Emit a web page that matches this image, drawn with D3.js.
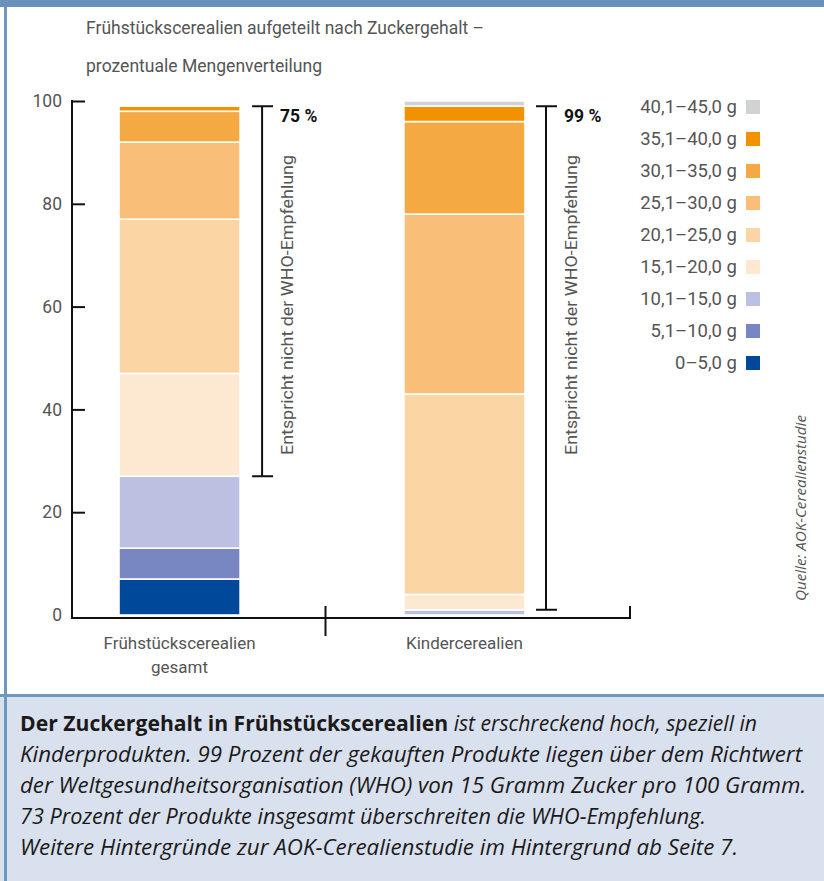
<!DOCTYPE html>
<html><head><meta charset="utf-8">
<script src="https://cdn.jsdelivr.net/npm/d3@7"></script>
<style>
html,body{margin:0;padding:0;background:#fff;}
svg{display:block;}
</style></head>
<body>
<svg id="chart" width="824" height="881"></svg>
<script>
// ---------- DATA ----------
const categories = ["Frühstückscerealien gesamt", "Kindercerealien"];
const categoryLines = [["Frühstückscerealien", "gesamt"], ["Kindercerealien"]];
const bands = ["0–5,0 g", "5,1–10,0 g", "10,1–15,0 g", "15,1–20,0 g", "20,1–25,0 g",
               "25,1–30,0 g", "30,1–35,0 g", "35,1–40,0 g", "40,1–45,0 g"];
const bandColors = ["#004899", "#7886c2", "#bcc1e2", "#fde9d2", "#fbd5a3",
                    "#f9be78", "#f5a942", "#f39200", "#d0d2d3"];
const valuesGesamt = [7, 6, 14, 20, 30, 15, 6, 1, 0];
const valuesKinder = [0, 0, 1, 3, 39, 35, 18, 3, 1];
const bracketLabels = ["75 %", "99 %"];
const yTicks = [0, 20, 40, 60, 80, 100];
const titleLines = ["Frühstückscerealien aufgeteilt nach Zuckergehalt –", "prozentuale Mengenverteilung"];
const bracketText = "Entspricht nicht der WHO-Empfehlung";
const sourceText = "Quelle: AOK-Cerealienstudie";

// ---------- SETUP ----------
const svg = d3.select("#chart");
const FONT = "Roboto, 'Liberation Sans', sans-serif";
const GREY = "#555";

// frame
svg.append("rect").attr("x", 0).attr("y", 0).attr("width", 824).attr("height", 7).attr("fill", "#6a91ba");
svg.append("rect").attr("x", 0).attr("y", 696).attr("width", 824).attr("height", 185).attr("fill", "#dae1ee");
svg.append("rect").attr("x", 4).attr("y", 7).attr("width", 3).attr("height", 874).attr("fill", "#7097bf");
svg.append("rect").attr("x", 0).attr("y", 694).attr("width", 824).attr("height", 3).attr("fill", "#7097bf");

// title
const titleWidths = [398, 236];
svg.selectAll("text.title").data(titleLines).join("text")
  .attr("class", "title")
  .attr("x", 86).attr("y", (d, i) => 34 + i * 38)
  .attr("font-family", FONT).attr("font-size", 17.5).attr("fill", GREY)
  .attr("textLength", (d, i) => titleWidths[i]).attr("lengthAdjust", "spacingAndGlyphs")
  .text(d => d);

// scales
const y = d3.scaleLinear().domain([0, 100]).range([615, 101]);
const x = d3.scaleBand().domain(categories).range([119, 525]).paddingInner(0.575).paddingOuter(0);
const bw = x.bandwidth();

// stacked data
const rows = categories.map((c, i) => {
  const vals = i === 0 ? valuesGesamt : valuesKinder;
  const o = {cat: c};
  bands.forEach((b, j) => o[b] = vals[j]);
  return o;
});
const stack = d3.stack().keys(bands)(rows);

const g = svg.append("g");
stack.forEach((layer, li) => {
  g.selectAll(null).data(layer.filter(d => d[1] - d[0] > 0)).join("rect")
    .attr("x", d => x(d.data.cat))
    .attr("width", bw)
    .attr("y", d => y(d[1]))
    .attr("height", d => Math.max(0.5, y(d[0]) - y(d[1])))
    .attr("fill", bandColors[li])
    .attr("stroke", "#fff").attr("stroke-width", 1.6);
});

// y axis
const yAxis = d3.axisLeft(y).tickValues(yTicks).tickSizeInner(-13).tickSizeOuter(0).tickPadding(10);
const ya = svg.append("g").attr("transform", "translate(72,0)").call(yAxis);
ya.select(".domain").remove();
ya.selectAll(".tick line").attr("stroke", "#111").attr("stroke-width", 2);
ya.selectAll(".tick").filter(d => d === 0).select("line").remove();
ya.selectAll(".tick text").attr("font-family", FONT).attr("font-size", 17.5).attr("fill", GREY);
svg.append("line").attr("x1", 72).attr("x2", 72).attr("y1", y(100) - 1).attr("y2", 619)
  .attr("stroke", "#111").attr("stroke-width", 2);

// x axis
const axisY = 618;
svg.append("path")
  .attr("d", `M72,${axisY}H630V606`)
  .attr("fill", "none").attr("stroke", "#111").attr("stroke-width", 2);
const divX = (x(categories[0]) + bw + x(categories[1])) / 2 + 3.5;
svg.append("line").attr("x1", divX).attr("x2", divX).attr("y1", 606).attr("y2", 636)
  .attr("stroke", "#111").attr("stroke-width", 2);

// category labels
categories.forEach((c, i) => {
  const t = svg.append("text").attr("text-anchor", "middle")
    .attr("font-family", FONT).attr("font-size", 17).attr("fill", GREY);
  categoryLines[i].forEach((ln, k) => {
    t.append("tspan").attr("x", x(c) + bw / 2).attr("y", 649 + k * 24).text(ln);
  });
});

// brackets
categories.forEach((c, i) => {
  const vals = i === 0 ? valuesGesamt : valuesKinder;
  const lo = d3.sum(vals.slice(0, 3));
  const hi = d3.sum(vals.slice(0, 8));
  const bx = x(c) + bw + (i === 0 ? 22 : 21);
  const y0 = y(lo), y1 = y(hi);
  svg.append("path")
    .attr("d", `M${bx - 10},${y1}H${bx + 11}M${bx},${y1}V${y0}M${bx - 10},${y0}H${bx + 11}`)
    .attr("fill", "none").attr("stroke", "#111").attr("stroke-width", 2);
  svg.append("text").attr("x", bx + 18).attr("y", y1 + 16)
    .attr("font-family", FONT).attr("font-weight", "bold").attr("font-size", 17.5).attr("fill", "#111")
    .text(bracketLabels[i]);
  const tx = bx + 25, ty = 305;
  svg.append("text").attr("transform", `translate(${tx},${ty}) rotate(-90)`)
    .attr("text-anchor", "middle").attr("dominant-baseline", "central")
    .attr("font-family", FONT).attr("font-size", 16.5).attr("fill", GREY)
    .attr("textLength", 300).attr("lengthAdjust", "spacingAndGlyphs")
    .text(bracketText);
});

// legend
const legendOrder = bands.map((b, i) => i).reverse();
const lg = svg.append("g");
legendOrder.forEach((bi, k) => {
  const cy = 107 + k * 32;
  lg.append("text").attr("x", 737).attr("y", cy).attr("text-anchor", "end")
    .attr("dominant-baseline", "central")
    .attr("font-family", FONT).attr("font-size", 18.5).attr("fill", GREY)
    .text(bands[bi]);
  lg.append("rect").attr("x", 746).attr("y", cy - 7).attr("width", 14).attr("height", 14)
    .attr("fill", bandColors[bi]);
});

// source
svg.append("text").attr("transform", "translate(800,508) rotate(-90)")
  .attr("text-anchor", "middle").attr("dominant-baseline", "central")
  .attr("font-family", "'Open Sans', sans-serif").attr("font-style", "italic")
  .attr("font-size", 14).attr("fill", GREY)
  .attr("textLength", 186).attr("lengthAdjust", "spacingAndGlyphs")
  .text(sourceText);

// caption
const captionLines = [
  [{t: "Der Zuckergehalt in Frühstückscerealien", b: true}, {t: " ist erschreckend hoch, speziell in", b: false}],
  [{t: "Kinderprodukten. 99 Prozent der gekauften Produkte liegen über dem Richtwert", b: false}],
  [{t: "der Weltgesundheitsorganisation (WHO) von 15 Gramm Zucker pro 100 Gramm.", b: false}],
  [{t: "73 Prozent der Produkte insgesamt überschreiten die WHO-Empfehlung.", b: false}],
  [{t: "Weitere Hintergründe zur AOK-Cerealienstudie im Hintergrund ab Seite 7.", b: false}]
];
const captionWidths = [737, 782, 786, 686, 718];
const CFONT = "'Liberation Sans Narrow', 'Open Sans', sans-serif";
captionLines.forEach((parts, i) => {
  const t = svg.append("text").attr("x", 20).attr("y", 731 + i * 31)
    .attr("font-family", CFONT).attr("font-size", 21).attr("fill", "#1a1a1a")
    .attr("textLength", captionWidths[i]).attr("lengthAdjust", "spacingAndGlyphs");
  parts.forEach(p => {
    t.append("tspan").attr("font-weight", p.b ? "bold" : "normal")
      .attr("font-style", p.b ? "normal" : "italic").text(p.t);
  });
});
</script>
</body></html>
